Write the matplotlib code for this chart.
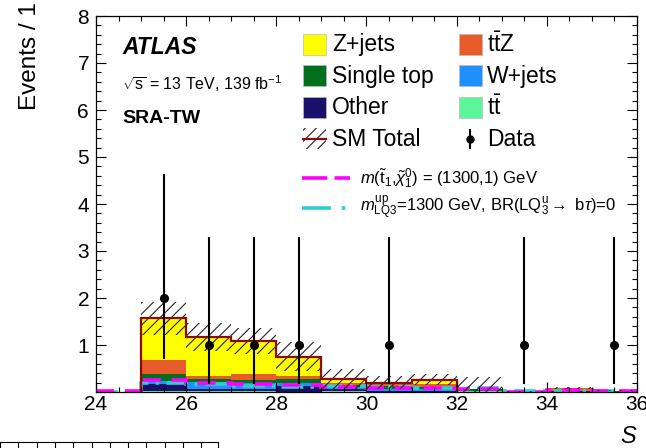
import numpy as np
import matplotlib
matplotlib.use('Agg')
import matplotlib.pyplot as plt
from matplotlib.patches import Rectangle
from matplotlib.lines import Line2D

plt.rcParams['font.family'] = ['Liberation Sans', 'DejaVu Sans']
plt.rcParams['mathtext.fontset'] = 'custom'
plt.rcParams['mathtext.rm'] = 'Liberation Sans'
plt.rcParams['mathtext.it'] = 'Liberation Sans:italic'
plt.rcParams['mathtext.bf'] = 'Liberation Sans:bold'
plt.rcParams['hatch.linewidth'] = 0.8

# ---- data (bins of width 1 from 24 to 36) ----
edges = np.arange(24, 37)
ttbar     = [0.00, 0.03, 0.02, 0.02, 0.01, 0.02, 0.01, 0.01, 0.02, 0.00, 0.00, 0.00]
other     = [0.00, 0.13, 0.04, 0.05, 0.12, 0.05, 0.02, 0.02, 0.01, 0.00, 0.02, 0.00]
wjets     = [0.00, 0.08, 0.16, 0.12, 0.06, 0.03, 0.03, 0.03, 0.00, 0.01, 0.00, 0.01]
singletop = [0.00, 0.15, 0.05, 0.06, 0.08, 0.05, 0.06, 0.05, 0.03, 0.00, 0.01, 0.01]
ttz       = [0.00, 0.30, 0.06, 0.13, 0.08, 0.05, 0.04, 0.05, 0.00, 0.00, 0.05, 0.01]
zjets     = [0.00, 0.88, 0.84, 0.70, 0.40, 0.08, 0.04, 0.10, 0.00, 0.00, 0.00, 0.00]
sm_unc    = [0.00, 0.35, 0.30, 0.28, 0.31, 0.22, 0.14, 0.12, 0.25, 0.02, 0.02, 0.01]

sig_stop = [0.02, 0.26, 0.19, 0.17, 0.15, 0.10, 0.08, 0.09, 0.06, 0.01, 0.04, 0.02]
sig_lq   = [0.01, 0.20, 0.16, 0.13, 0.10, 0.12, 0.10, 0.08, 0.08, 0.03, 0.02, 0.02]

data_x   = [25.5, 26.5, 27.5, 28.5, 30.5, 33.5, 35.5]
data_y   = [2, 1, 1, 1, 1, 1, 1]
data_elo = [1.29, 0.83, 0.83, 0.83, 0.83, 0.83, 0.83]
data_ehi = [2.64, 2.30, 2.30, 2.30, 2.30, 2.30, 2.30]

stack = [(ttbar, '#5cf59a'), (other, '#18106a'), (wjets, '#1e90ff'),
         (singletop, '#00701c'), (ttz, '#e85c2a'), (zjets, '#ffff00')]
legend_left = [('Z+jets', '#ffff00'), ('Single top', '#00701c'), ('Other', '#18106a')]
legend_right = [(r't$\bar{\mathrm{t}}$Z', '#e85c2a'), ('W+jets', '#1e90ff'),
                (r't$\bar{\mathrm{t}}$', '#5cf59a')]

W, H = 646, 448
fig = plt.figure(figsize=(W / 100, H / 100), dpi=100)


def fx(x):
    return x / W


def fy(y):
    return 1 - y / H


ax = fig.add_axes([fx(96), fy(392), (637 - 96) / W, (392 - 16) / H])

base = np.zeros(len(ttbar))
for vals, col in stack:
    top = base + np.array(vals)
    ax.stairs(top, edges, baseline=base, fill=True, color=col, lw=0)
    base = top
total = base

# signal overlays
ax.stairs(sig_lq, edges, color='#33cccc', lw=2.6, linestyle=(0, (6, 2, 1, 2)), baseline=None)
ax.stairs(sig_stop, edges, color='#ff00ff', lw=2.6, linestyle=(0, (5, 3)), baseline=None)

# total + uncertainty
unc = np.array(sm_unc)
ax.stairs(total + unc, edges, baseline=np.clip(total - unc, 0, None), fill=True,
          facecolor='none', edgecolor='#222222', hatch='///', lw=0)
mask = total > 0.15
ax.stairs(np.where(mask, total, np.nan), edges, color='#8b0a0a', lw=1.6, baseline=0)

# data
ax.errorbar(data_x, data_y, yerr=[data_elo, data_ehi], fmt='o', color='black',
            ms=5.5, elinewidth=1.5, capsize=0, zorder=5)

ax.set_xlim(24, 36)
ax.set_ylim(0, 8)
ax.set_xticks(np.arange(24, 37, 2))
ax.set_xticks(np.arange(24, 36.01, 0.5), minor=True)
ax.set_yticks(np.arange(1, 9, 1))
ax.set_yticks(np.arange(0, 8.01, 0.2), minor=True)
ax.tick_params(which='both', direction='in', top=True, right=True, width=0.8)
ax.tick_params(which='major', length=7.5)
ax.tick_params(which='minor', length=3.8)
ax.tick_params(axis='y', labelsize=15, pad=5)
ax.tick_params(axis='x', labelsize=15, pad=2)
for s in ax.spines.values():
    s.set_linewidth(0.9)

# clip the tick labels at the bottom like the reference crop
fig.add_artist(Rectangle((0, fy(423)), 1, (423 - 410) / H, transform=fig.transFigure,
                         facecolor='white', edgecolor='none', zorder=10))

# axis titles
fig.text(fx(30), fy(2), 'Events / 1', rotation=90, ha='center', va='top', fontsize=17.5)
fig.text(fx(636), fy(436), 'S', style='italic', ha='right', va='center', fontsize=17)

# labels
fig.text(fx(122), fy(48), 'ATLAS', fontsize=16.5, fontweight='bold', style='italic', va='center')
fig.text(fx(122), fy(84), r'$\sqrt{\mathrm{s}}$ = 13 TeV, 139 fb$^{\mathrm{-1}}$', fontsize=11.5, va='center')
fig.text(fx(122), fy(118), 'SRA-TW', fontsize=14, fontweight='bold', va='center')

# legend
rows = [45, 76, 108]
for (lab, col), y in zip(legend_left, rows):
    fig.add_artist(Rectangle((fx(303), fy(y + 10)), 23 / W, 21 / H, transform=fig.transFigure,
                             facecolor=col, edgecolor='#bbbbbb', lw=0.5))
    fig.text(fx(332), fy(y), lab, fontsize=16.5, va='center')
for (lab, col), y in zip(legend_right, rows):
    fig.add_artist(Rectangle((fx(459), fy(y + 10)), 23 / W, 21 / H, transform=fig.transFigure,
                             facecolor=col, edgecolor='#bbbbbb', lw=0.5))
    fig.text(fx(487), fy(y), lab, fontsize=16.5, va='center')

y = 139
fig.add_artist(Rectangle((fx(303), fy(y + 10)), 23 / W, 21 / H, transform=fig.transFigure,
                         facecolor='none', edgecolor='#222222', hatch='///', lw=0))
fig.add_artist(Line2D([fx(303), fx(326)], [fy(y), fy(y)], transform=fig.transFigure,
                      color='#8b0a0a', lw=1.6))
fig.text(fx(332), fy(y), 'SM Total', fontsize=16.5, va='center')
fig.add_artist(Line2D([fx(470), fx(470)], [fy(y - 9), fy(y + 9)], transform=fig.transFigure,
                      color='black', lw=1.5))
fig.add_artist(Line2D([fx(470)], [fy(y)], transform=fig.transFigure, color='black',
                      marker='o', ms=5))
fig.text(fx(487), fy(y), 'Data', fontsize=16.5, va='center')

y = 178
fig.add_artist(Line2D([fx(302), fx(350)], [fy(y), fy(y)], transform=fig.transFigure,
                      color='#ff00ff', lw=2.6, linestyle=(0, (7, 2))))
fig.text(fx(360), fy(y), r'$m(\tilde{\mathrm{t}}_{1}$,$\tilde{\chi}^{0}_{1})$ = (1300,1) GeV',
         fontsize=12, va='center')
y = 208
fig.add_artist(Line2D([fx(302), fx(350)], [fy(y), fy(y)], transform=fig.transFigure,
                      color='#33cccc', lw=2.6, linestyle=(0, (8, 3, 1, 3))))
fig.text(fx(360), fy(y),
         r'$m^{\mathrm{up}}_{\mathrm{LQ3}}$=1300 GeV, BR(LQ$^{\mathrm{u}}_{3}$$\rightarrow$ b$\tau$)=0',
         fontsize=12, va='center')

# top edge of the lower panel peeking in at the bottom
ax2 = fig.add_axes([0, -0.2, fx(218), 0.2 + (H - 442) / H])
for side in ['left', 'bottom']:
    ax2.spines[side].set_visible(False)
ax2.set_xlim(0, 218)
ax2.set_xticks(np.arange(0, 218, 18.3))
ax2.tick_params(axis='x', direction='in', top=True, bottom=False, labeltop=False,
                labelbottom=False, length=4, width=0.8)
ax2.set_yticks([])
ax2.patch.set_alpha(0)

fig.savefig('out.png', dpi=100)
